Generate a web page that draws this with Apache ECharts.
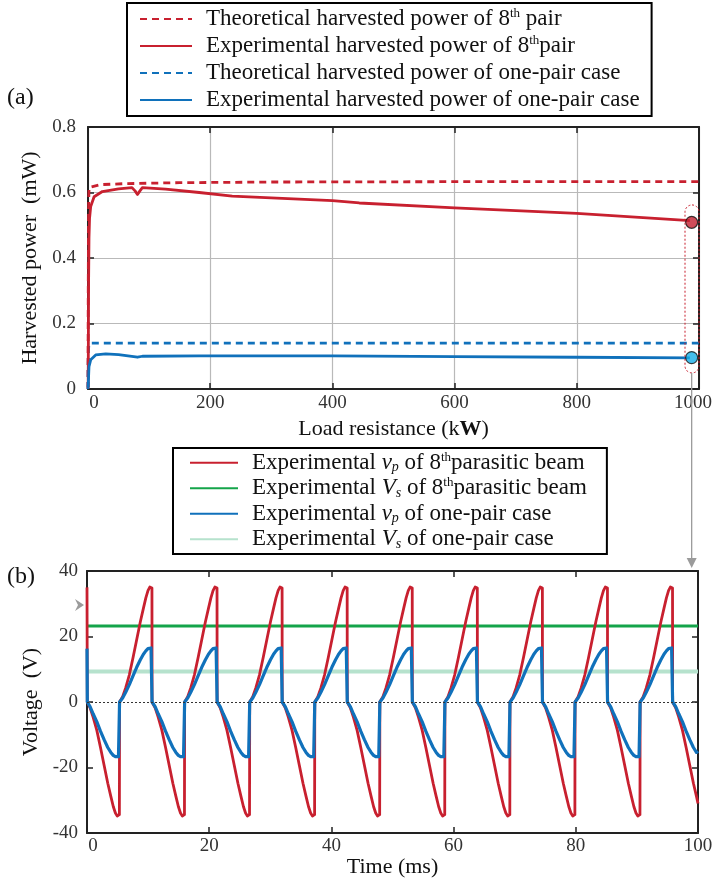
<!DOCTYPE html>
<html>
<head>
<meta charset="utf-8">
<title>Harvested power and voltage</title>
<script src="https://cdn.jsdelivr.net/npm/echarts@6/dist/echarts.min.js"></script>
<style>
  html, body { margin: 0; padding: 0; background: #fff; }
  #chart { width: 712px; height: 884px; }
</style>
</head>
<body>
<div id="chart"></div>
<script>
// (a) harvested power vs load resistance (kΩ, mW)
const theoEighthR = [0, 0.4, 0.8, 1.2, 1.8, 5, 20, 60, 150, 300, 600, 1000]
const theoEighthP = [0, 0.3, 0.5, 0.58, 0.615, 0.62, 0.624, 0.627, 0.63, 0.632, 0.633, 0.633]

const expEighthR = [0.3, 0.6, 1, 1.6, 2.5, 4.4, 10, 23.5, 50, 72, 77, 81, 85, 89, 127, 182, 236, 318, 400, 444, 600, 800, 985]
const expEighthP = [0.005, 0.15, 0.33, 0.46, 0.52, 0.557, 0.587, 0.603, 0.611, 0.615, 0.605, 0.594, 0.605, 0.615, 0.61, 0.6, 0.589, 0.582, 0.575, 0.568, 0.553, 0.536, 0.514]

const theoOneR = [0, 0.4, 0.8, 1.5, 5, 1000]
const theoOneP = [0, 0.08, 0.12, 0.137, 0.14, 0.14]

const expOneR = [0.3, 1, 1.6, 4.4, 12.6, 29, 50, 81, 89, 182, 400, 600, 800, 985]
const expOneP = [0.005, 0.04, 0.068, 0.089, 0.104, 0.107, 0.105, 0.097, 0.1, 0.101, 0.101, 0.099, 0.097, 0.095]

// highlighted end points
const endEighth = [988, 0.509]
const endOne = [988, 0.096]

// (b) voltage waveforms, shared time base (ms), one row per half cycle
const timeMs = [
  0,
  0.05, 0.5, 1, 1.6, 2.2, 2.8, 3.4, 3.9, 4.3, 4.65, 4.95, 5.15, 5.3,
  5.33, 5.83, 6.33, 6.93, 7.53, 8.13, 8.73, 9.23, 9.63, 9.98, 10.28, 10.48, 10.63,
  10.65, 11.15, 11.65, 12.25, 12.85, 13.45, 14.05, 14.55, 14.95, 15.3, 15.6, 15.8, 15.95,
  15.98, 16.48, 16.98, 17.58, 18.18, 18.78, 19.38, 19.88, 20.28, 20.63, 20.93, 21.13, 21.28,
  21.3, 21.8, 22.3, 22.9, 23.5, 24.1, 24.7, 25.2, 25.6, 25.95, 26.25, 26.45, 26.6,
  26.63, 27.13, 27.63, 28.23, 28.83, 29.43, 30.03, 30.53, 30.93, 31.28, 31.58, 31.78, 31.93,
  31.95, 32.45, 32.95, 33.55, 34.15, 34.75, 35.35, 35.85, 36.25, 36.6, 36.9, 37.1, 37.25,
  37.28, 37.78, 38.28, 38.88, 39.48, 40.08, 40.68, 41.18, 41.58, 41.93, 42.23, 42.43, 42.58,
  42.6, 43.1, 43.6, 44.2, 44.8, 45.4, 46, 46.5, 46.9, 47.25, 47.55, 47.75, 47.9,
  47.93, 48.43, 48.93, 49.53, 50.13, 50.73, 51.33, 51.83, 52.23, 52.58, 52.88, 53.08, 53.23,
  53.25, 53.75, 54.25, 54.85, 55.45, 56.05, 56.65, 57.15, 57.55, 57.9, 58.2, 58.4, 58.55,
  58.58, 59.08, 59.58, 60.18, 60.78, 61.38, 61.98, 62.48, 62.88, 63.23, 63.53, 63.73, 63.88,
  63.9, 64.4, 64.9, 65.5, 66.1, 66.7, 67.3, 67.8, 68.2, 68.55, 68.85, 69.05, 69.2,
  69.23, 69.73, 70.23, 70.83, 71.43, 72.03, 72.63, 73.13, 73.53, 73.88, 74.18, 74.38, 74.53,
  74.55, 75.05, 75.55, 76.15, 76.75, 77.35, 77.95, 78.45, 78.85, 79.2, 79.5, 79.7, 79.85,
  79.88, 80.38, 80.88, 81.48, 82.08, 82.68, 83.28, 83.78, 84.18, 84.53, 84.83, 85.03, 85.18,
  85.2, 85.7, 86.2, 86.8, 87.4, 88, 88.6, 89.1, 89.5, 89.85, 90.15, 90.35, 90.5,
  90.53, 91.03, 91.53, 92.13, 92.73, 93.33, 93.93, 94.43, 94.83, 95.18, 95.48, 95.68, 95.83,
  95.85, 96.35, 96.85, 97.45, 98.05, 98.65, 99.25, 99.75, 100
]

const vpEighth = [
  35,
  0, -1.8, -4.6, -8.6, -13.8, -19.3, -24.8, -28.8, -31.9, -33.9, -34.8, -34.8, -34.4,
  0, 1.6, 4.3, 8.3, 13.5, 19, 24.5, 28.6, 31.8, 34, 35.1, 35.2, 34.8,
  0, -1.8, -4.6, -8.6, -13.8, -19.3, -24.8, -28.8, -31.9, -33.9, -34.8, -34.8, -34.4,
  0, 1.6, 4.3, 8.3, 13.5, 19, 24.5, 28.6, 31.8, 34, 35.1, 35.2, 34.8,
  0, -1.8, -4.6, -8.6, -13.8, -19.3, -24.8, -28.8, -31.9, -33.9, -34.8, -34.8, -34.4,
  0, 1.6, 4.3, 8.3, 13.5, 19, 24.5, 28.6, 31.8, 34, 35.1, 35.2, 34.8,
  0, -1.8, -4.6, -8.6, -13.8, -19.3, -24.8, -28.8, -31.9, -33.9, -34.8, -34.8, -34.4,
  0, 1.6, 4.3, 8.3, 13.5, 19, 24.5, 28.6, 31.8, 34, 35.1, 35.2, 34.8,
  0, -1.8, -4.6, -8.6, -13.8, -19.3, -24.8, -28.8, -31.9, -33.9, -34.8, -34.8, -34.4,
  0, 1.6, 4.3, 8.3, 13.5, 19, 24.5, 28.6, 31.8, 34, 35.1, 35.2, 34.8,
  0, -1.8, -4.6, -8.6, -13.8, -19.3, -24.8, -28.8, -31.9, -33.9, -34.8, -34.8, -34.4,
  0, 1.6, 4.3, 8.3, 13.5, 19, 24.5, 28.6, 31.8, 34, 35.1, 35.2, 34.8,
  0, -1.8, -4.6, -8.6, -13.8, -19.3, -24.8, -28.8, -31.9, -33.9, -34.8, -34.8, -34.4,
  0, 1.6, 4.3, 8.3, 13.5, 19, 24.5, 28.6, 31.8, 34, 35.1, 35.2, 34.8,
  0, -1.8, -4.6, -8.6, -13.8, -19.3, -24.8, -28.8, -31.9, -33.9, -34.8, -34.8, -34.4,
  0, 1.6, 4.3, 8.3, 13.5, 19, 24.5, 28.6, 31.8, 34, 35.1, 35.2, 34.8,
  0, -1.8, -4.6, -8.6, -13.8, -19.3, -24.8, -28.8, -31.9, -33.9, -34.8, -34.8, -34.4,
  0, 1.6, 4.3, 8.3, 13.5, 19, 24.5, 28.6, 31.8, 34, 35.1, 35.2, 34.8,
  0, -1.8, -4.6, -8.6, -13.8, -19.3, -24.8, -28.8, -31
]

const vpOnePair = [
  16.3,
  0, -1.4, -3.6, -6, -8.9, -11.5, -13.9, -15.4, -16.3, -16.7, -16.8, -16.7, -16.5,
  0, 1.2, 3, 5.3, 8, 10.6, 12.9, 14.6, 15.6, 16.3, 16.6, 16.5, 16.3,
  0, -1.4, -3.6, -6, -8.9, -11.5, -13.9, -15.4, -16.3, -16.7, -16.8, -16.7, -16.5,
  0, 1.2, 3, 5.3, 8, 10.6, 12.9, 14.6, 15.6, 16.3, 16.6, 16.5, 16.3,
  0, -1.4, -3.6, -6, -8.9, -11.5, -13.9, -15.4, -16.3, -16.7, -16.8, -16.7, -16.5,
  0, 1.2, 3, 5.3, 8, 10.6, 12.9, 14.6, 15.6, 16.3, 16.6, 16.5, 16.3,
  0, -1.4, -3.6, -6, -8.9, -11.5, -13.9, -15.4, -16.3, -16.7, -16.8, -16.7, -16.5,
  0, 1.2, 3, 5.3, 8, 10.6, 12.9, 14.6, 15.6, 16.3, 16.6, 16.5, 16.3,
  0, -1.4, -3.6, -6, -8.9, -11.5, -13.9, -15.4, -16.3, -16.7, -16.8, -16.7, -16.5,
  0, 1.2, 3, 5.3, 8, 10.6, 12.9, 14.6, 15.6, 16.3, 16.6, 16.5, 16.3,
  0, -1.4, -3.6, -6, -8.9, -11.5, -13.9, -15.4, -16.3, -16.7, -16.8, -16.7, -16.5,
  0, 1.2, 3, 5.3, 8, 10.6, 12.9, 14.6, 15.6, 16.3, 16.6, 16.5, 16.3,
  0, -1.4, -3.6, -6, -8.9, -11.5, -13.9, -15.4, -16.3, -16.7, -16.8, -16.7, -16.5,
  0, 1.2, 3, 5.3, 8, 10.6, 12.9, 14.6, 15.6, 16.3, 16.6, 16.5, 16.3,
  0, -1.4, -3.6, -6, -8.9, -11.5, -13.9, -15.4, -16.3, -16.7, -16.8, -16.7, -16.5,
  0, 1.2, 3, 5.3, 8, 10.6, 12.9, 14.6, 15.6, 16.3, 16.6, 16.5, 16.3,
  0, -1.4, -3.6, -6, -8.9, -11.5, -13.9, -15.4, -16.3, -16.7, -16.8, -16.7, -16.5,
  0, 1.2, 3, 5.3, 8, 10.6, 12.9, 14.6, 15.6, 16.3, 16.6, 16.5, 16.3,
  0, -1.4, -3.6, -6, -8.9, -11.5, -13.9, -15.4, -15
]

const vsTime = [0, 100]
const vsEighth = [23.2, 23.2]
const vsOnePair = [9.3, 9.3]

const powerTicks = { min: 0, max: 0.8, interval: 0.2 }
const resistTicks = { min: 0, max: 1000, interval: 200 }
const voltTicks = { min: -40, max: 40, interval: 20 }
const timeTicks = { min: 0, max: 100, interval: 20 }

const NAMES_A = [
  'Theoretical harvested power of 8th pair',
  'Experimental harvested power of 8th pair',
  'Theoretical harvested power of one-pair case',
  'Experimental harvested power of one-pair case'
]
const NAMES_B = [
  'Experimental vp of 8th parasitic beam',
  'Experimental Vs of 8th parasitic beam',
  'Experimental vp of one-pair case',
  'Experimental Vs of one-pair case'
]
const LABELS = {
  [NAMES_A[0]]: 'Theoretical harvested power of 8{sup|th} pair',
  [NAMES_A[1]]: 'Experimental harvested power of 8{sup|th}pair',
  [NAMES_A[2]]: 'Theoretical harvested power of one-pair case',
  [NAMES_A[3]]: 'Experimental harvested power of one-pair case',
  [NAMES_B[0]]: 'Experimental {it|v}{sub|p} of 8{sup|th}parasitic beam',
  [NAMES_B[1]]: 'Experimental {it|V}{sub|s} of 8{sup|th}parasitic beam',
  [NAMES_B[2]]: 'Experimental {it|v}{sub|p} of one-pair case',
  [NAMES_B[3]]: 'Experimental {it|V}{sub|s} of one-pair case'
}

const RED = '#c8202f'
const BLUE = '#1071bb'
const GREEN = '#14a44a'
const LIGHT_GREEN = '#b6e2cd'
const FONT = '"Liberation Serif", "DejaVu Serif", serif'

const zip = (xs, ys) => xs.map((x, i) => [x, ys[i]])

const legendText = (lh) => ({
  fontFamily: FONT,
  fontSize: 23,
  color: '#111',
  lineHeight: lh,
  padding: [0, 0, 0, 9],
  rich: {
    sup: { fontFamily: FONT, fontSize: 13, verticalAlign: 'top', lineHeight: lh, color: '#111' },
    it: { fontFamily: FONT, fontSize: 23, fontStyle: 'italic', color: '#111' },
    sub: { fontFamily: FONT, fontSize: 14, fontStyle: 'italic', verticalAlign: 'bottom', lineHeight: lh - 2, color: '#111' }
  }
})

const legendBase = {
  orient: 'vertical',
  itemHeight: 14,
  borderColor: '#000',
  borderWidth: 2,
  selectedMode: false,
  itemStyle: { opacity: 0 },
  formatter: name => LABELS[name] || name
}

const frameLine = { show: true, onZero: false, lineStyle: { color: '#222', width: 2 } }
const innerTick = { show: true, inside: true, length: 6, lineStyle: { color: '#222', width: 1.5 } }
const tickLabel = {
  fontFamily: FONT, fontSize: 19, color: '#333',
  rich: {
    first: { fontFamily: FONT, fontSize: 19, color: '#333', padding: [0, 0, 0, 12] },
    last: { fontFamily: FONT, fontSize: 19, color: '#333', padding: [0, 12, 0, 0] }
  }
}
const nameStyle = { fontFamily: FONT, fontSize: 22, color: '#111' }

// nudge the end labels inwards the way the original figure does
const xLabel = (lo, hi, shiftLast) => v => {
  if (v === lo) return '{first|' + v + '}'
  if (v === hi && shiftLast) return '{last|' + v + '}'
  return String(v)
}

const mirrorAxis = (gridIndex, position, ticks) => ({
  gridIndex, position, type: 'value', ...ticks,
  axisLine: frameLine, axisTick: innerTick,
  axisLabel: { show: false }, splitLine: { show: false }
})

const lineSeries = (name, x, y, color, axis, extra) => ({
  name,
  type: 'line',
  xAxisIndex: axis,
  yAxisIndex: axis,
  data: zip(x, y),
  showSymbol: false,
  symbol: 'none',
  lineStyle: { color, width: 2.8, join: 'round', ...(extra || {}) },
  itemStyle: { color },
  emphasis: { disabled: true }
})

const option = {
  animation: false,
  backgroundColor: '#fff',
  textStyle: { fontFamily: FONT },
  legend: [
    {
      ...legendBase, data: NAMES_A, left: 127, top: 3,
      itemWidth: 52, itemGap: 3, padding: [4, 12, 4, 12], textStyle: legendText(24)
    },
    {
      ...legendBase, data: NAMES_B, left: 173, top: 448,
      itemWidth: 48, itemGap: 2, padding: [3, 20, 3, 16], textStyle: legendText(23.5)
    }
  ],
  grid: [
    { left: 88, top: 127, width: 611, height: 262, outerBoundsMode: 'none' },
    { left: 87, top: 571, width: 611, height: 262, outerBoundsMode: 'none' }
  ],
  xAxis: [
    {
      gridIndex: 0, type: 'value', ...resistTicks,
      axisLine: frameLine, axisTick: innerTick,
      axisLabel: { ...tickLabel, margin: 5, formatter: xLabel(0, 1000, true) },
      splitLine: { show: true, lineStyle: { color: '#b9b9b9', width: 1.2 } },
      name: 'Load resistance (k{b|W})',
      nameLocation: 'middle', nameGap: 29, nameMoveOverlap: false,
      nameTextStyle: { ...nameStyle, rich: { b: { ...nameStyle, fontWeight: 'bold' } } }
    },
    mirrorAxis(0, 'top', resistTicks),
    {
      gridIndex: 1, type: 'value', ...timeTicks,
      axisLine: frameLine, axisTick: innerTick,
      axisLabel: { ...tickLabel, margin: 4, formatter: xLabel(0, 100, false) },
      splitLine: { show: false },
      name: 'Time (ms)',
      nameLocation: 'middle', nameGap: 23, nameMoveOverlap: false,
      nameTextStyle: nameStyle
    },
    mirrorAxis(1, 'top', timeTicks)
  ],
  yAxis: [
    {
      gridIndex: 0, type: 'value', ...powerTicks,
      axisLine: frameLine, axisTick: innerTick,
      axisLabel: { ...tickLabel, margin: 12, formatter: v => (v === 0 ? '0' : v.toFixed(1)) },
      splitLine: { show: true, lineStyle: { color: '#b9b9b9', width: 1.2 } },
      name: 'Harvested power  (mW)',
      nameLocation: 'middle', nameGap: 47, nameMoveOverlap: false,
      nameTextStyle: nameStyle
    },
    mirrorAxis(0, 'right', powerTicks),
    {
      gridIndex: 1, type: 'value', ...voltTicks,
      axisLine: frameLine, axisTick: innerTick,
      axisLabel: { ...tickLabel, margin: 9, formatter: v => String(v) },
      splitLine: { show: false },
      name: 'Voltage  (V)',
      nameLocation: 'middle', nameGap: 45, nameMoveOverlap: false,
      nameTextStyle: nameStyle
    },
    mirrorAxis(1, 'right', voltTicks)
  ],
  series: [
    lineSeries(NAMES_A[0], theoEighthR, theoEighthP, RED, 0, { type: [7, 5] }),
    lineSeries(NAMES_A[2], theoOneR, theoOneP, BLUE, 0, { type: [7, 5] }),
    lineSeries(NAMES_A[1], expEighthR, expEighthP, RED, 0),
    lineSeries(NAMES_A[3], expOneR, expOneP, BLUE, 0),
    {
      type: 'scatter', xAxisIndex: 0, yAxisIndex: 0, data: [endEighth],
      symbolSize: 12, z: 5, itemStyle: { color: '#c41f30', borderColor: '#111', borderWidth: 1.2 }
    },
    {
      type: 'scatter', xAxisIndex: 0, yAxisIndex: 0, data: [endOne],
      symbolSize: 12, z: 5, itemStyle: { color: '#17aee9', borderColor: '#111', borderWidth: 1.2 }
    },
    {
      ...lineSeries(NAMES_B[3], vsTime, vsOnePair, LIGHT_GREEN, 2, { width: 4 }),
      yAxisIndex: 2,
      markLine: {
        silent: true, symbol: ['none', 'none'], label: { show: false },
        lineStyle: { color: '#333', type: [2, 2], width: 1 },
        data: [{ yAxis: 0 }]
      }
    },
    { ...lineSeries(NAMES_B[1], vsTime, vsEighth, GREEN, 2, { width: 3 }), yAxisIndex: 2 },
    { ...lineSeries(NAMES_B[0], timeMs, vpEighth, RED, 2, { width: 2.8 }), yAxisIndex: 2 },
    { ...lineSeries(NAMES_B[2], timeMs, vpOnePair, BLUE, 2, { width: 3.2 }), yAxisIndex: 2 }
  ]
}

const chart = echarts.init(document.getElementById('chart'), null, { renderer: 'canvas' })
chart.setOption(option)

// annotations: panel letters, dashed capsule round the end points, arrows
const pa = v => chart.convertToPixel({ gridIndex: 0 }, v)
const pb = v => chart.convertToPixel({ gridIndex: 1 }, v)
const capTop = pa([1000, 0.562])
const capBot = pa([1000, 0.049])
const capX = pa([endOne[0], 0])[0]
const arrowTip = pb([100, 40])
const leftMark = pb([0, 29.6])
const GRAY = '#9b9b9b'

chart.setOption({
  graphic: [
    { type: 'text', left: 7, top: 86, style: { text: '(a)', font: '24px ' + FONT, fill: '#111' } },
    { type: 'text', left: 7, top: 565, style: { text: '(b)', font: '24px ' + FONT, fill: '#111' } },
    {
      type: 'rect', z: 10,
      shape: { x: capTop[0] - 14, y: capTop[1], width: 14, height: capBot[1] - capTop[1], r: 7 },
      style: { fill: 'none', stroke: RED, lineWidth: 1, lineDash: [2, 2] }
    },
    {
      type: 'line', z: 10,
      shape: { x1: capX, y1: capBot[1], x2: capX, y2: arrowTip[1] - 8 },
      style: { stroke: GRAY, lineWidth: 1.3 }
    },
    {
      type: 'polygon', z: 10,
      shape: { points: [[capX - 5, arrowTip[1] - 13], [capX + 5, arrowTip[1] - 13], [capX, arrowTip[1] - 3]] },
      style: { fill: GRAY }
    },
    {
      type: 'polygon', z: 10,
      shape: { points: [[leftMark[0] - 12, leftMark[1] - 6], [leftMark[0] - 3, leftMark[1]], [leftMark[0] - 12, leftMark[1] + 6], [leftMark[0] - 9, leftMark[1]]] },
      style: { fill: GRAY }
    }
  ]
})
</script>
</body>
</html>
